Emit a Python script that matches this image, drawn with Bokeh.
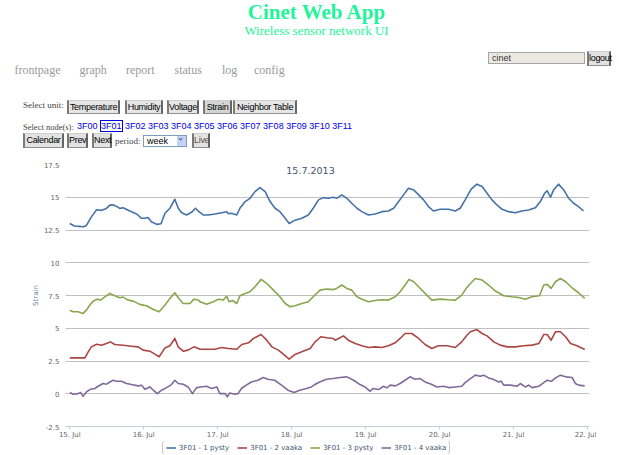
import pandas as pd
from bokeh.plotting import figure
from bokeh.models import (Range1d, Legend, LegendItem, Label, Div, DaysTicker,
                          DatetimeTickFormatter, FixedTicker, NumeralTickFormatter,
                          ColumnDataSource)
from bokeh.layouts import column
from bokeh.embed import file_html
from bokeh.resources import INLINE

# ---------------- data ----------------
START = "2013-07-15"
CHART_TITLE = "15.7.2013"
Y_LABEL = "Strain"
SERIES_NAMES = ["3F01 - 1 pysty", "3F01 - 2 vaaka", "3F01 - 3 pysty", "3F01 - 4 vaaka"]
COLORS = ["#4572A7", "#AA4643", "#89A54E", "#80699B"]
Y_TICKS = [-2.5, 0, 2.5, 5, 7.5, 10, 12.5, 15, 17.5]

s1_hours = [0, 1.5, 3, 4.5, 5.4, 7, 8.7, 10.3, 11.9, 13, 14, 15.2, 16.2, 17.3, 19.5, 21.7,
            23.2, 24.5, 25.4, 26.5, 28.2, 29.6, 30.9, 32.5, 34.1, 35.2, 36.3, 37.9, 39.5,
            40.8, 41.7, 43.3, 44.9, 47.1, 49.3, 50.9, 51.4, 52.5, 54.2, 55.2, 56.9, 58.5,
            60.1, 61.7, 63.4, 65, 66.6, 68.2, 69.9, 71.2, 73.1, 75.3, 77.4, 79, 80.7, 82.3,
            83.9, 85.5, 86.6, 88.3, 89.9, 91.5, 93.2, 94.8, 96.9, 99.1, 101.3, 103.4, 105.1,
            106.7, 108.3, 109.9, 111.6, 113.2, 114.8, 116.4, 118, 120.2, 122.9, 125.1, 126.7,
            128.3, 130.2, 132.1, 133.8, 135.4, 137, 138.6, 140.3, 142.4, 144.6, 146.7, 148.9,
            151.1, 152.7, 154.1, 154.9, 156, 157, 158.6, 160.3, 161.9, 163.5, 165.1, 166.7]
s1_values = [13.0, 12.8, 12.78, 12.75, 12.85, 13.5, 14.05, 14.0, 14.15, 14.4, 14.42, 14.3,
             14.15, 14.2, 13.95, 13.72, 13.4, 13.4, 13.45, 13.13, 12.93, 12.98, 13.78, 14.16,
             14.85, 14.16, 13.82, 13.65, 13.85, 14.16, 13.95, 13.65, 13.65, 13.72, 13.82, 13.9,
             13.75, 13.78, 13.65, 14.16, 14.67, 14.92, 15.43, 15.73, 15.43, 14.67, 14.16, 13.9,
             13.4, 13.0, 13.25, 13.4, 13.65, 14.16, 14.8, 14.97, 14.92, 15.0, 14.92, 15.18,
             14.92, 14.54, 14.16, 13.9, 13.65, 13.72, 13.9, 13.95, 14.16, 14.67, 15.18, 15.69,
             15.56, 15.18, 14.8, 14.29, 13.95, 14.08, 14.08, 13.95, 14.16, 14.8, 15.6, 16.0,
             15.82, 15.31, 14.8, 14.41, 14.08, 13.9, 13.82, 13.95, 14.03, 14.2, 14.67, 15.31,
             15.5, 15.0, 15.56, 16.0, 15.56, 14.92, 14.54, 14.29, 13.95]

s2_hours = [0, 4.9, 6, 7, 8.7, 10.3, 11.9, 13.2, 14.6, 17.3, 20, 22.2, 23.8, 26, 27.6, 29,
            30.9, 32.5, 34.1, 35.2, 36.8, 38.4, 40.3, 42.3, 44.4, 47.1, 49.3, 51.4, 54.2, 55.8,
            58, 59.6, 62.1, 63.9, 65.6, 67.7, 69.3, 71.2, 73.1, 75.3, 78, 79.6, 81.5, 83.4,
            85.5, 86.1, 87.2, 88.8, 90.4, 92.6, 94.8, 96.9, 99.1, 101.3, 103.4, 105.6, 107.2,
            108.8, 111, 113.2, 115.3, 117.5, 119.6, 122.4, 125.1, 127.2, 128.8, 130, 132.1,
            133.8, 135.4, 137.6, 139.7, 141.9, 144.6, 147.3, 150, 152.2, 153.8, 154.9, 156.2,
            157.6, 159.2, 160.9, 162.5, 164.6, 167.1]
s2_values = [2.74, 2.74, 3.2, 3.58, 3.78, 3.7, 3.83, 3.96, 3.76, 3.7, 3.63, 3.58, 3.33, 3.25,
             3.02, 2.82, 3.5, 3.66, 4.22, 3.58, 3.25, 3.33, 3.58, 3.4, 3.4, 3.4, 3.53, 3.45,
             3.4, 3.76, 3.89, 4.22, 4.52, 4.09, 3.58, 3.33, 3.02, 2.64, 3.0, 3.2, 3.45, 3.96,
             4.35, 4.27, 4.22, 4.09, 4.22, 4.42, 4.09, 3.83, 3.66, 3.53, 3.58, 3.53, 3.66, 3.89,
             4.22, 4.6, 4.6, 4.22, 3.76, 3.45, 3.66, 3.66, 3.53, 3.96, 4.45, 4.73, 4.9, 4.6,
             4.42, 3.96, 3.71, 3.58, 3.58, 3.66, 3.71, 3.83, 4.52, 4.52, 4.09, 4.73, 4.73, 4.35,
             3.83, 3.66, 3.38]

s3_hours = [0, 1.1, 2.7, 4.3, 5.4, 6.5, 7.6, 8.9, 10, 11.4, 13, 14.6, 16.2, 17.3, 18.9, 20.6,
            22.7, 24.9, 27.1, 29, 30.9, 32.5, 34.1, 35.2, 36.8, 39, 40.3, 41.7, 42.3, 44.4,
            46.6, 48.2, 49.8, 50.9, 51.7, 52.8, 54.2, 55.2, 56.9, 58.5, 60.1, 62.1, 63.9, 66.1,
            68.2, 69.9, 71.5, 73.1, 75.3, 77.4, 79, 81.2, 83.4, 85.5, 86.6, 88.3, 89.9, 91.5,
            93.2, 94.8, 96.9, 99.1, 101.3, 103.4, 105.6, 107.2, 108.8, 110.1, 111.6, 113.2,
            115.3, 117.5, 120.2, 122.9, 125.1, 127.2, 128.8, 130, 131.6, 133.8, 135.9, 138.1,
            140.8, 143.5, 145.7, 147.8, 150, 152.4, 153.8, 154.9, 156.2, 157.6, 159.2, 160.9,
            163, 165.1, 167.1]
s3_values = [6.38, 6.26, 6.26, 6.13, 6.38, 6.77, 7.07, 7.22, 7.15, 7.4, 7.66, 7.48, 7.33,
             7.38, 7.15, 7.07, 6.82, 6.72, 6.43, 6.26, 6.77, 7.28, 7.71, 7.33, 6.89, 6.89, 7.22,
             7.15, 7.02, 6.84, 7.02, 7.22, 7.15, 7.45, 7.02, 7.12, 6.89, 7.48, 7.66, 7.79, 8.17,
             8.73, 8.42, 7.91, 7.4, 6.89, 6.64, 6.72, 6.89, 7.02, 7.4, 7.91, 7.99, 7.95, 8.04,
             8.3, 8.04, 7.91, 7.4, 7.22, 7.02, 7.12, 7.17, 7.15, 7.4, 7.79, 8.3, 8.73, 8.55,
             8.17, 7.66, 7.15, 7.22, 7.17, 7.15, 7.53, 8.1, 8.42, 8.8, 8.68, 8.3, 7.84, 7.48,
             7.4, 7.35, 7.22, 7.4, 7.48, 8.3, 8.35, 8.04, 8.55, 8.8, 8.55, 8.09, 7.71, 7.28]

s4_hours = [0, 1.1, 2.7, 3.5, 4.3, 5.4, 6.5, 8.1, 9.2, 10.8, 11.9, 13, 14.1, 15.2, 16.8,
            18.4, 20, 22.2, 23.3, 24.4, 26, 27.1, 28.4, 29.8, 31.4, 33, 34.1, 35.2, 36.8, 38.4,
            39.8, 41.1, 42.3, 44.4, 46, 47.7, 48.7, 50.4, 51.1, 51.9, 53.5, 54.6, 55.7, 57.3,
            58.9, 61.1, 62.7, 64.3, 66.5, 68.7, 70.8, 72.8, 74.6, 76.8, 78.4, 79.5, 81.1, 83.3,
            85.5, 87.7, 89.9, 92.1, 94.2, 95.8, 97.5, 98.3, 100.2, 101.8, 102.9, 104, 105.6,
            107.2, 108.8, 110.4, 112.1, 113.7, 115.3, 117.5, 119.1, 121.3, 122.9, 125.1, 127.2,
            128.3, 130, 131.6, 133.2, 134.3, 135.9, 137.6, 139.2, 140, 140.8, 143, 145.1,
            146.2, 147.8, 148.9, 150, 152.2, 153.8, 154.9, 156.3, 157.6, 159.2, 160.9, 163,
            164.1, 165.1, 167.1]
s4_values = [0.09, -0.04, 0.01, 0.09, -0.2, 0.14, 0.32, 0.4, 0.57, 0.78, 0.73, 0.9, 1.03,
             0.95, 0.95, 0.78, 0.7, 0.6, 0.65, 0.34, 0.52, 0.27, 0.01, 0.27, 0.47, 0.7, 1.03,
             0.78, 0.73, 0.52, 0.01, 0.45, 0.52, 0.57, 0.4, 0.52, 0.01, 0.01, -0.24, 0.06,
             -0.04, 0.01, 0.4, 0.66, 0.9, 1.03, 1.24, 1.11, 1.03, 0.66, 0.27, 0.09, 0.27, 0.4,
             0.52, 0.7, 0.9, 1.11, 1.16, 1.24, 1.29, 1.03, 0.7, 0.52, 0.19, 0.4, 0.32, 0.57,
             0.45, 0.66, 0.6, 0.78, 1.03, 1.29, 1.11, 1.16, 0.9, 0.7, 0.52, 0.57, 0.47, 0.52,
             0.57, 0.85, 1.16, 1.42, 1.34, 1.42, 1.21, 1.08, 0.9, 0.97, 0.66, 0.66, 0.57, 0.78,
             0.52, 0.66, 0.47, 0.57, 0.85, 1.03, 0.95, 1.21, 1.42, 1.29, 1.24, 0.78, 0.66, 0.6]

SERIES = [(s1_hours, s1_values), (s2_hours, s2_values), (s3_hours, s3_values), (s4_hours, s4_values)]

# ---------------- header (page chrome) ----------------
GREEN = "#1ef59a"
SERIF = "'Liberation Serif', 'Times New Roman', serif"
SANS = "'Liberation Sans', Arial, sans-serif"


def btn(label, left, top, width, height, bg="#e2e2e2", color="#000"):
    return (f"<div style=\"position:absolute;left:{left}px;top:{top}px;width:{width}px;height:{height}px;"
            f"box-sizing:border-box;background:{bg};border-left:2px solid #7a7a7a;border-right:2px solid #666;"
            f"border-top:1px solid #cfcfcf;border-bottom:1px solid #909090;font:9px/{height-2}px {SANS};"
            f"letter-spacing:-0.3px;color:{color};text-align:center;white-space:nowrap;overflow:visible;\">{label}</div>")


def txt(label, left, top, size, family, color, weight="normal"):
    return (f"<div style=\"position:absolute;left:{left}px;top:{top}px;white-space:nowrap;"
            f"font:{weight} {size}px/{size}px {family};color:{color};\">{label}</div>")


nav = [("frontpage", 6.5), ("graph", 71.5), ("report", 118), ("status", 166.5), ("log", 214), ("config", 246)]
nodes = ["3F00", "3F01", "3F02", "3F03", "3F04", "3F05", "3F06", "3F07", "3F08", "3F09", "3F10", "3F11"]
node_html = " ".join(
    (f"<span style=\"border:1px solid #0000dd;\">{n}</span>" if n == "3F01" else n) for n in nodes)

parts = [
    f"<div style=\"position:absolute;left:7px;top:-6px;width:603px;text-align:center;"
    f"font:bold 21px/21px {SERIF};color:{GREEN};\">Cinet Web App</div>",
    f"<div style=\"position:absolute;left:7px;top:16px;width:603px;text-align:center;"
    f"font:13px/13px {SERIF};color:{GREEN};\">Wireless sensor network UI</div>",
]
for label, left in nav:
    parts.append(txt(label, left, 56, 12, SERIF, "#9a9a9a"))
parts.append(f"<div style=\"position:absolute;left:480px;top:44px;width:97px;height:12px;box-sizing:border-box;"
             f"background:#ebe9e2;border:1px solid #a0a6ab;font:9px/10px {SANS};color:#333;padding-left:3px;\">cinet</div>")
parts.append(btn("logout", 579, 43, 24, 15))
parts.append(txt("Select unit:", 15, 93, 9, SERIF, "#444"))
for label, left, width in [("Temperature", 59, 53), ("Humidity", 117, 38), ("Voltage", 159, 32),
                           ("Strain", 195, 29), ("Neighbor Table", 225, 64)]:
    parts.append(btn(label, left, 92, width, 14, bg="#d4d4d4" if label == "Strain" else "#e6e6e6"))
parts.append(txt("Select node(s):", 15, 114.5, 8.5, SERIF, "#444"))
parts.append(f"<div style=\"position:absolute;left:69px;top:114px;white-space:nowrap;"
             f"font:9px/9px {SANS};color:#0000ee;\">{node_html}</div>")
parts.append(btn("Calendar", 15, 125, 41, 15))
parts.append(btn("Prev", 59, 125, 21, 15))
parts.append(btn("Next", 84, 125, 20, 15))
parts.append(txt("period:", 107, 129, 9, SERIF, "#444"))
parts.append(f"<div style=\"position:absolute;left:135px;top:127px;width:44px;height:12px;box-sizing:border-box;"
             f"background:#fff;border:1px solid #7f9db9;font:9px/10px {SANS};color:#000;padding-left:3px;\">week"
             f"<div style=\"position:absolute;right:0;top:0;width:9px;height:10px;background:#c3d3f7;\">"
             f"<div style=\"position:absolute;left:2px;top:1px;width:3px;height:3px;border-right:1.5px solid #4d6185;"
             f"border-bottom:1.5px solid #4d6185;transform:rotate(45deg);\"></div></div></div>")
parts.append(btn("Live", 184, 125, 18, 15, color="#555"))

header = Div(text=f"<div style=\"position:relative;width:603px;height:150px;overflow:visible;\">{''.join(parts)}</div>",
             width=603, height=150, margin=(0, 0, 0, 0))

# ---------------- chart ----------------
base = pd.Timestamp(START)
x_start = base - pd.Timedelta(hours=1.39)
x_end = base + pd.Timedelta(days=7, hours=0.65)

p = figure(width=588, height=283, x_axis_type="datetime",
           x_range=Range1d(x_start, x_end), y_range=Range1d(Y_TICKS[0], Y_TICKS[-1]),
           output_backend="svg", toolbar_location=None,
           min_border_left=57, min_border_right=7, min_border_top=6, min_border_bottom=15,
           background_fill_color="white", border_fill_color="white", margin=(0, 0, 0, 0))
p.outline_line_color = None

renderers = []
for (hours, vals), color in zip(SERIES, COLORS):
    xs = base + pd.to_timedelta(hours, unit="h")
    src = ColumnDataSource(dict(x=xs, y=vals))
    r = p.line("x", "y", source=src, line_color=color, line_width=1.6, line_join="round")
    renderers.append(r)

# axes
p.xaxis.ticker = DaysTicker(days=list(range(1, 32)))
p.xaxis.formatter = DatetimeTickFormatter(days="%d. %b", months="%d. %b", hours="%d. %b")
p.xaxis.axis_line_color = "#C0D0E0"
p.xaxis.major_tick_line_color = "#C0D0E0"
p.xaxis.major_tick_in = 0
p.xaxis.major_tick_out = 3
p.xaxis.minor_tick_line_color = None
p.xaxis.minor_tick_out = 0
p.xaxis.major_label_standoff = 1
p.xaxis.major_label_text_font = "DejaVu Sans"
p.xaxis.major_label_text_font_size = "7px"
p.xaxis.major_label_text_color = "#666666"

p.yaxis.ticker = FixedTicker(ticks=Y_TICKS)
p.yaxis.formatter = NumeralTickFormatter(format="0.[0]")
p.yaxis.axis_line_color = None
p.yaxis.major_tick_line_color = None
p.yaxis.minor_tick_line_color = None
p.yaxis.major_tick_in = 0
p.yaxis.major_tick_out = 0
p.yaxis.minor_tick_out = 0
p.yaxis.major_label_standoff = 6
p.yaxis.major_label_text_font = "DejaVu Sans"
p.yaxis.major_label_text_font_size = "7px"
p.yaxis.major_label_text_color = "#666666"
p.yaxis.axis_label = Y_LABEL
p.yaxis.axis_label_text_font = "DejaVu Sans"
p.yaxis.axis_label_text_font_size = "7px"
p.yaxis.axis_label_text_font_style = "normal"
p.yaxis.axis_label_text_color = "#6D869F"
p.yaxis.axis_label_standoff = 1

p.xgrid.grid_line_color = None
p.ygrid.grid_line_color = "#C0C0C0"
p.ygrid.grid_line_width = 1

mid = x_start + (x_end - x_start) / 2
p.add_layout(Label(x=mid.timestamp() * 1000, y=Y_TICKS[-1], x_offset=-17, y_offset=-2,
                   text=CHART_TITLE, text_align="center", text_baseline="top",
                   text_font="DejaVu Sans", text_font_size="9.5px", text_color="#3E576F"))

# ---------------- legend strip (cut off by the window bottom, as in the reference) ----------------
lg = figure(width=603, height=13, x_range=Range1d(0, 1), y_range=Range1d(0, 1),
            output_backend="svg", toolbar_location=None,
            x_axis_location=None, y_axis_location=None,
            min_border=0, min_border_left=0, min_border_right=0, min_border_top=0, min_border_bottom=0,
            background_fill_color="white", border_fill_color="white", margin=(0, 0, 0, 0))
lg.outline_line_color = None
lg.grid.visible = False
nan = float("nan")
legend_renderers = [lg.line(x=[nan], y=[nan], line_color=c, line_width=1.6) for c in COLORS]

legend = Legend(items=[LegendItem(label=n, renderers=[r]) for n, r in zip(SERIES_NAMES, legend_renderers)],
                orientation="horizontal", location=(97, -2),
                label_text_font="DejaVu Sans", label_text_font_size="7px", label_text_color="#3E576F",
                glyph_width=10, glyph_height=9, label_height=9, label_standoff=3, spacing=8,
                padding=3, margin=0, border_line_color="#909090", border_line_width=1,
                background_fill_color="white", background_fill_alpha=1.0)
if "border_radius" in Legend.properties():
    legend.border_radius = 5
lg.add_layout(legend, "center")

layout = column(header, p, lg, spacing=0, margin=(8, 8, 0, 8))
open("out.html", "w").write(file_html(layout, INLINE))
